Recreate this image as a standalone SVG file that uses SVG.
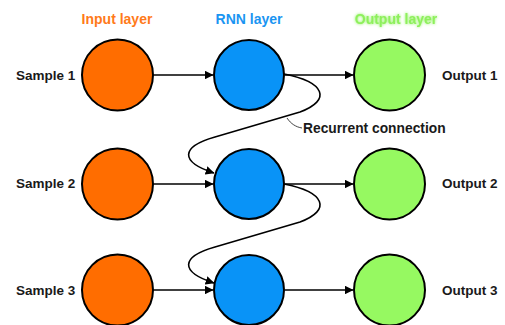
<svg xmlns="http://www.w3.org/2000/svg" width="505" height="325" viewBox="0 0 505 325">
  <style>
    .lbl { font-family: "Liberation Sans", Arial, sans-serif; font-weight: bold; fill: #1a1a1a; }
    .side { font-size: 13.5px; }
    .head { font-size: 14px; text-anchor: middle; }
    .node { stroke: #000; stroke-width: 2; }
    .in { fill: #FF6D00; }
    .rnn { fill: #0993F7; }
    .out { fill: #96F961; }
    .edge { fill: none; stroke: #000; stroke-width: 1.6; }
  </style>
  <defs>
    <marker id="arrow" viewBox="0 0 10 10" refX="9.5" refY="5" markerWidth="5.5" markerHeight="5.5" orient="auto" markerUnits="strokeWidth">
      <path d="M0,0 L10,5 L0,10 z" fill="#000"/>
    </marker>
    <filter id="glow" x="-20%" y="-50%" width="140%" height="200%">
      <feGaussianBlur in="SourceGraphic" stdDeviation="1.4" result="b"/>
      <feMerge>
        <feMergeNode in="b"/>
        <feMergeNode in="SourceGraphic"/>
      </feMerge>
    </filter>
  </defs>

  <!-- column headings -->
  <g id="headings">
    <text class="lbl head" x="117" y="24" style="fill:#FF7A1A">Input layer</text>
    <text class="lbl head" x="249" y="24" style="fill:#1A95F2">RNN layer</text>
    <text class="lbl head" x="396" y="24" style="fill:#8EF05C" filter="url(#glow)">Output layer</text>
  </g>

  <!-- row labels -->
  <g id="labels">
    <text class="lbl side" x="16" y="80">Sample 1</text>
    <text class="lbl side" x="16" y="188">Sample 2</text>
    <text class="lbl side" x="16" y="295">Sample 3</text>
    <text class="lbl side" x="442" y="80">Output 1</text>
    <text class="lbl side" x="442" y="188">Output 2</text>
    <text class="lbl side" x="442" y="295">Output 3</text>
    <text class="lbl" x="303" y="133" style="font-size:13.8px">Recurrent connection</text>
  </g>

  <!-- connectors -->
  <g id="connectors">
    <line class="edge" x1="153" y1="75" x2="213" y2="75" marker-end="url(#arrow)"/>
    <line class="edge" x1="285" y1="75" x2="353" y2="75" marker-end="url(#arrow)"/>
    <line class="edge" x1="153" y1="184" x2="213" y2="184" marker-end="url(#arrow)"/>
    <line class="edge" x1="285" y1="184" x2="353" y2="184" marker-end="url(#arrow)"/>
    <line class="edge" x1="153" y1="290" x2="213" y2="290" marker-end="url(#arrow)"/>
    <line class="edge" x1="285" y1="290" x2="353" y2="290" marker-end="url(#arrow)"/>
    <path class="edge" d="M284 74 C 325 82, 332 100, 300 112 L 215 137 C 180 147, 180 162, 214 173" marker-end="url(#arrow)"/>
    <path class="edge" d="M284 184 C 325 192, 332 210, 300 222 L 215 247 C 180 257, 180 272, 214 283" marker-end="url(#arrow)"/>
    <path d="M287 118 C 291 124, 296 127, 302 128" fill="none" stroke="#444" stroke-width="1"/>
  </g>

  <!-- nodes -->
  <g id="in1"><circle class="node in" cx="117.5" cy="75" r="35.5"/></g>
  <g id="in2"><circle class="node in" cx="117.5" cy="184" r="35.5"/></g>
  <g id="in3"><circle class="node in" cx="117.5" cy="290" r="35.5"/></g>
  <g id="rnn1"><circle class="node rnn" cx="249" cy="75" r="35"/></g>
  <g id="rnn2"><circle class="node rnn" cx="249" cy="184" r="35"/></g>
  <g id="rnn3"><circle class="node rnn" cx="249" cy="290" r="35"/></g>
  <g id="out1"><circle class="node out" cx="389.5" cy="75" r="35.5"/></g>
  <g id="out2"><circle class="node out" cx="389.5" cy="184" r="35.5"/></g>
  <g id="out3"><circle class="node out" cx="389.5" cy="290" r="35.5"/></g>
</svg>
